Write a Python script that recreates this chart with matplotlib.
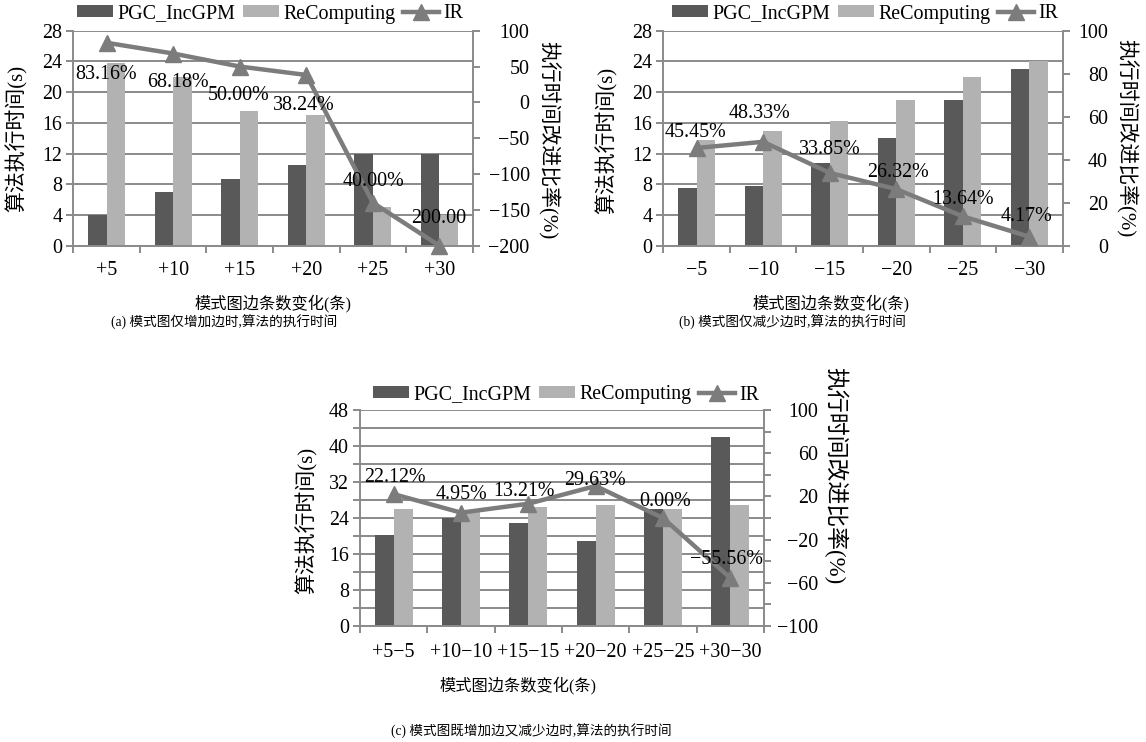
import numpy as np
import matplotlib
matplotlib.use("Agg")
import matplotlib.pyplot as plt
from matplotlib.lines import Line2D
from matplotlib.patches import Patch

plt.rcParams['font.family'] = ['Liberation Serif', 'Noto Sans CJK SC']
plt.rcParams['axes.unicode_minus'] = True

# ---- data -------------------------------------------------------------
cats_a = ["+5", "+10", "+15", "+20", "+25", "+30"]
pgc_a = [4.0, 7.0, 8.75, 10.5, 12.0, 12.0]
recomp_a = [23.75, 22.0, 17.5, 17.0, 5.0, 4.0]
ir_a = [83.16, 68.18, 50.00, 38.24, -140.00, -200.00]
ir_text_a = ["83.16%", "68.18%", "50.00%", "38.24%", "40.00%", "200.00"]

cats_b = ["\u22125", "\u221210", "\u221215", "\u221220", "\u221225", "\u221230"]
pgc_b = [7.5, 7.75, 10.75, 14.0, 19.0, 23.0]
recomp_b = [13.75, 15.0, 16.25, 19.0, 22.0, 24.0]
ir_b = [45.45, 48.33, 33.85, 26.32, 13.64, 4.17]
ir_text_b = ["45.45%", "48.33%", "33.85%", "26.32%", "13.64%", "4.17%"]

cats_c = ["+5\u22125", "+10\u221210", "+15\u221215", "+20\u221220", "+25\u221225", "+30\u221230"]
pgc_c = [20.25, 24.0, 23.0, 19.0, 26.0, 42.0]
recomp_c = [26.0, 25.25, 26.5, 27.0, 26.0, 27.0]
ir_c = [22.12, 4.95, 13.21, 29.63, 0.00, -55.56]
ir_text_c = ["22.12%", "4.95%", "13.21%", "29.63%", "0.00%", "\u221255.56%"]

series_names = ["PGC_IncGPM", "ReComputing", "IR"]

# ---- style ------------------------------------------------------------
DARK = "#595959"
LIGHT = "#b2b2b2"
LINE = "#7c7c7c"
GRID = "#8a8a8a"
FS = 14.4

W, H = 1146, 742
fig = plt.figure(figsize=(W / 100, H / 100), dpi=100)


def box(l, t, r, b):
    return [l / W, 1 - b / H, (r - l) / W, (b - t) / H]


def fpos(x, y):
    return x / W, 1 - y / H


def panel(ax, cats, pgc, rec, ir, ir_text, ylim, ymaj, ymin, y2lim, y2maj, y2min,
          offsets, xpad, rpad):
    x = np.arange(len(cats))
    w = 0.28
    ax.bar(x - w / 2, pgc, w, color=DARK, zorder=2)
    ax.bar(x + w / 2, rec, w, color=LIGHT, zorder=2)
    ax.set_xlim(-0.5, len(cats) - 0.5)
    ax.set_ylim(*ylim)
    ax.set_axisbelow(True)

    ax.set_xticks(np.arange(-0.5, len(cats), 1))
    ax.set_xticklabels([])
    ax.set_xticks(x, minor=True)
    ax.set_xticklabels(cats, minor=True, fontsize=FS)
    ax.tick_params(axis='x', which='major', length=5, width=1.4, color=GRID, direction='out')
    ax.tick_params(axis='x', which='minor', length=0, pad=xpad)

    ax.set_yticks(ymaj)
    ax.set_yticklabels([f"{v:g}".replace("-", "\u2212") for v in ymaj], fontsize=FS)
    if ymin is not None:
        ax.set_yticks(ymin, minor=True)
    ax.tick_params(axis='y', which='both', length=5, width=1.4, color=GRID,
                   direction='out', pad=3)
    ax.yaxis.grid(True, which='both', color=GRID, linewidth=1.4)
    for s in ("top", "right"):
        ax.spines[s].set_visible(False)
    for s in ("left", "bottom"):
        ax.spines[s].set_color(GRID)
        ax.spines[s].set_linewidth(1.4)

    ax2 = ax.twinx()
    ax2.set_ylim(*y2lim)
    ax2.tick_params(axis='y', which='both', length=5, width=1.4, color=GRID,
                    direction='out', pad=rpad)
    ax2.set_yticks(y2maj)
    ax2.set_yticklabels([f"{v:g}".replace("-", "\u2212") for v in y2maj],
                        fontsize=FS, ha='right')
    if y2min is not None:
        ax2.set_yticks(y2min, minor=True)
    for s in ("top", "left", "bottom"):
        ax2.spines[s].set_visible(False)
    ax2.spines["right"].set_color(GRID)
    ax2.spines["right"].set_linewidth(1.4)

    ax2.plot(x, ir, color=LINE, lw=3.2, marker='^', ms=11, clip_on=False, zorder=3)
    for xi, v, t, (dx, dy) in zip(x, ir, ir_text, offsets):
        ax2.annotate(t, (xi, v), xytext=(dx, dy), textcoords='offset pixels',
                     ha='center', va='center', fontsize=FS, zorder=4,
                     annotation_clip=False)
    return ax2


ax_a = fig.add_axes(box(73.3, 30.7, 472.7, 245.7))
ax_b = fig.add_axes(box(663.3, 30.7, 1062.7, 245.7))
ax_c = fig.add_axes(box(360, 410, 764, 626))

panel(ax_a, cats_a, pgc_a, recomp_a, ir_a, ir_text_a,
      (0, 28), np.arange(0, 29, 4), None,
      (-200, 100), np.arange(-200, 101, 50), None,
      [(-1, -32), (5, -29), (-1, -29), (-3, -31), (1, 21), (-1, 27)],
      xpad=11, rpad=36)
panel(ax_b, cats_b, pgc_b, recomp_b, ir_b, ir_text_b,
      (0, 28), np.arange(0, 29, 4), None,
      (0, 100), np.arange(0, 101, 20), None,
      [(-1, 15), (-4, 28), (0, 23), (2, 17), (0, 17), (-3, 20)],
      xpad=11, rpad=27.6)
panel(ax_c, cats_c, pgc_c, recomp_c, ir_c, ir_text_c,
      (0, 48), np.arange(0, 49, 8), np.arange(4, 48, 8),
      (-100, 100), np.arange(-100, 101, 40), np.arange(-80, 100, 40),
      [(1, 17), (0, 18), (-4, 12), (-1, 5), (2, 17), (-4, 19)],
      xpad=12, rpad=33.8)

# legends
handles = [Patch(facecolor=DARK), Patch(facecolor=LIGHT),
           Line2D([], [], color=LINE, lw=3.2, marker='^', ms=11)]
for cx, cy in [(270, 14), (865, 14), (566, 395)]:
    fig.legend(handles, series_names, loc='center', bbox_to_anchor=fpos(cx, cy),
               ncol=3, frameon=False, fontsize=FS, handlelength=1.8, handleheight=0.55,
               handletextpad=0.2, columnspacing=0.4, borderpad=0, borderaxespad=0)

# axis titles
ylab_left = "算法执行时间(s)"
ylab_right = "执行时间改进比率(%)"
xlab = "模式图边条数变化(条)"
for (x, y) in [(17, 138), (607, 140), (307, 520)]:
    fig.text(*fpos(x, y), ylab_left, rotation=90, ha='center', va='center', fontsize=15)
for (x, y, fs) in [(548, 140, 15), (1126, 138, 15), (835, 476, 16.5)]:
    fig.text(*fpos(x, y), ylab_right, rotation=-90, ha='center', va='center', fontsize=fs)
for (x, y) in [(273, 303), (831, 303), (518, 685)]:
    fig.text(*fpos(x, y), xlab, ha='center', va='center', fontsize=11.7)

captions = ["(a) 模式图仅增加边时,算法的执行时间",
            "(b) 模式图仅减少边时,算法的执行时间",
            "(c) 模式图既增加边又减少边时,算法的执行时间"]
for (x, y), t in zip([(224, 322), (792, 322), (531, 731)], captions):
    fig.text(*fpos(x, y), t, ha='center', va='center', fontsize=9.8)

fig.savefig("out.png", dpi=100)
